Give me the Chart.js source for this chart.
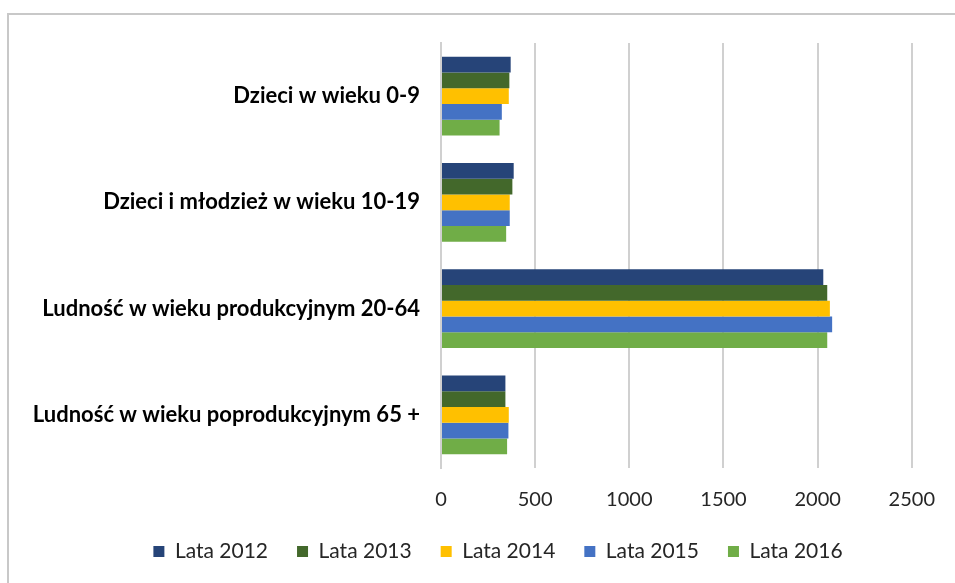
<!DOCTYPE html>
<html>
<head>
<meta charset="utf-8">
<script src="https://cdn.jsdelivr.net/npm/chart.js@4"></script>
<style>
  body { margin: 0; background: #fff; }
  #frame { position: absolute; left: 7px; top: 13px; width: 1000px; height: 600px; border: 2px solid #c8c8c8; }
  #wrap { position: absolute; left: 0; top: 0; width: 955px; height: 583px; }
</style>
</head>
<body>
<div id="frame"></div>
<div id="wrap"><canvas id="chart"></canvas></div>
<script>
// age groups (categories)
const groups = [
    "Dzieci w wieku 0-9",
    "Dzieci i młodzież w wieku 10-19",
    "Ludność w wieku produkcyjnym 20-64",
    "Ludność w wieku poprodukcyjnym 65 +",
];

// values, one array per year
const lata2012 = [370, 386, 2030, 342];
const lata2013 = [363, 379, 2051, 342];
const lata2014 = [360, 365, 2065, 360];
const lata2015 = [323, 365, 2077, 358];
const lata2016 = [311, 346, 2051, 351];

const yearLabels = ["Lata 2012", "Lata 2013", "Lata 2014", "Lata 2015", "Lata 2016"];
const yearColors = ["#264478", "#43682B", "#FFC000", "#4472C4", "#70AD47"];
const xTicks = [0, 500, 1000, 1500, 2000, 2500];

const series = [lata2012, lata2013, lata2014, lata2015, lata2016];

// legend in the original sits a bit right of the plot centre
const shiftLegend = {
    id: "shiftLegend",
    afterLayout(chart) {
        chart.legend.left += 38;
        chart.legend.right += 38;
    },
};

const canvas = document.getElementById("chart");

new Chart(canvas, {
    type: "bar",
    data: {
        labels: groups,
        datasets: series.map((vals, i) => ({
            label: yearLabels[i],
            data: vals,
            backgroundColor: yearColors[i],
            borderWidth: 0,
            categoryPercentage: 0.74,
            barPercentage: 1,
        })),
    },
    options: {
        indexAxis: "y",
        responsive: true,
        maintainAspectRatio: false,
        animation: false,
        layout: { padding: { top: 43, right: 35, bottom: 11, left: 0 } },
        scales: {
            x: {
                min: 0,
                max: 2500,
                afterBuildTicks: (scale) => { scale.ticks = xTicks.map(v => ({ value: v })); },
                afterFit: (scale) => { scale.height = 44; },
                grid: { color: "#d0d0d0", lineWidth: 2, drawTicks: false },
                border: { display: false },
                ticks: {
                    padding: 20,
                    color: "#262626",
                    font: { family: "Lato", size: 20 },
                    callback: (v) => String(v),
                },
            },
            y: {
                afterFit: (scale) => { scale.width = 441; },
                grid: { display: false },
                border: { color: "#d0d0d0", width: 2 },
                ticks: {
                    padding: 13,
                    color: "#000",
                    font: { family: "Lato", size: 22, weight: "bold" },
                },
            },
        },
        plugins: {
            legend: {
                position: "bottom",
                labels: {
                    boxWidth: 11,
                    boxHeight: 11,
                    padding: 29,
                    color: "#262626",
                    font: { family: "Lato", size: 21 },
                },
            },
            tooltip: { enabled: false },
        },
    },
    plugins: [shiftLegend],
});
</script>
</body>
</html>
